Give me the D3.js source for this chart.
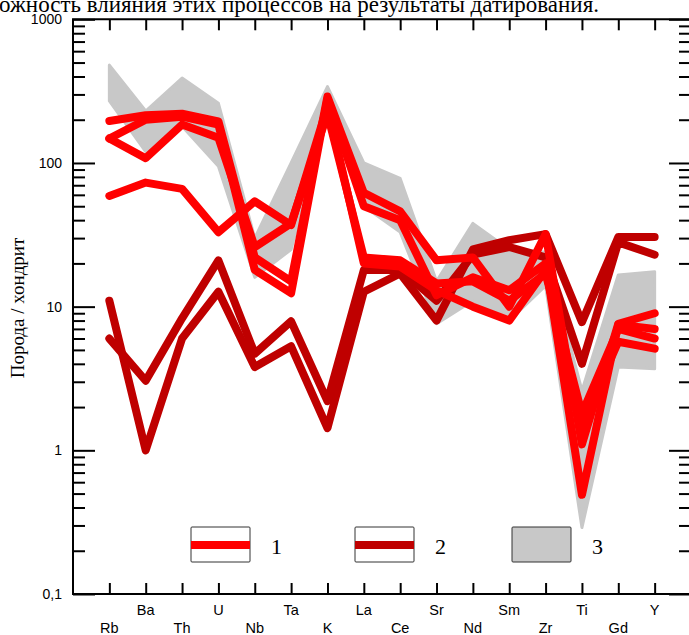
<!DOCTYPE html>
<html>
<head>
<meta charset="utf-8">
<script src="https://cdn.jsdelivr.net/npm/d3@7"></script>
<style>
  body { margin: 0; background: #fff; }
  svg { display: block; }
</style>
</head>
<body>
<script>
var categories = ['Rb', 'Ba', 'Th', 'U', 'Nb', 'Ta', 'K', 'La', 'Ce', 'Sr', 'Nd', 'Sm', 'Zr', 'Ti', 'Gd', 'Y'];

// группа 1 (красные)
var red1 = [196, 215, 220, 195, 22, 15, 290, 62, 46, 21, 22, 10, 32, 1.1, 7.6, 9];
var red2 = [148, 200, 210, 185, 18, 12.4, 280, 50, 40, 12, 16, 13, 20, 0.49, 7.5, 7];
var red3 = [148, 108, 185, 150, 26, 38, 220, 22, 21, 14.5, 15, 11, 17, 1.8, 7, 6];
var red4 = [59, 73, 66, 33, 54, 37, 250, 20, 19, 13, 10, 8, 18, 1.5, 5.7, 5.1];

// группа 2 (тёмно-красные)
var dark1 = [11, 1.0, 6, 12.7, 3.8, 5.3, 1.43, 12.7, 17, 8, 25, 29, 32, 7.8, 30.5, 30.5];
var dark2 = [6, 3.05, 8.3, 21, 4.7, 7.9, 2.2, 18, 18, 11, 23, 26, 22, 4, 28, 23];

// поле 3 (серое)
var fieldTop = [480, 230, 390, 260, 30, 100, 340, 100, 78, 15, 38, 25, 24, 2.6, 16.6, 17.5];
var fieldBottom = [270, 120, 180, 95, 16, 25, 230, 50, 33, 7.6, 11, 8, 14, 0.29, 3.8, 3.7];

var yTicksMajor = [0.1, 1, 10, 100, 1000];
var yTickLabels = ['0,1', '1', '10', '100', '1000'];
var legendNames = ['1', '2', '3'];

var redSeries = [red1, red2, red3, red4];
var darkSeries = [dark1, dark2];

var W = 689, H = 635;
var plotLeft = 73, plotRight = 691, plotTop = 19.3, plotBottom = 594;

var svg = d3.select('body').append('svg')
    .attr('width', W)
    .attr('height', H);

var x = d3.scalePoint().domain(categories).range([plotLeft, plotRight]).padding(1);
var y = d3.scaleLog().domain([0.1, 1000]).range([plotBottom, plotTop]);

// текст документа сверху (обрезан)
svg.append('text')
    .attr('x', -1)
    .attr('y', 12)
    .attr('font-family', 'Liberation Serif, serif')
    .attr('font-size', 23)
    .attr('fill', '#000')
    .text('ожность влияния этих процессов на результаты датирования.');

// все деления логарифмической оси
var allTicks = [];
for (var k = -1; k < 3; k++) {
  for (var m = 1; m < 10; m++) allTicks.push(m * Math.pow(10, k));
}
allTicks.push(1000);

// серое поле
var area = d3.area()
    .x(function(d, i) { return x(categories[i]); })
    .y0(function(d, i) { return y(fieldBottom[i]); })
    .y1(function(d) { return y(d); });

svg.append('path')
    .datum(fieldTop)
    .attr('d', area)
    .attr('fill', '#c8c8c8')
    .attr('stroke', '#c8c8c8')
    .attr('stroke-width', 3)
    .attr('stroke-linejoin', 'round');

var line = d3.line()
    .x(function(d, i) { return x(categories[i]); })
    .y(function(d) { return y(d); });

svg.selectAll('.dark')
    .data(darkSeries)
    .enter().append('path')
    .attr('class', 'dark')
    .attr('d', line)
    .attr('fill', 'none')
    .attr('stroke', '#bf0000')
    .attr('stroke-width', 8)
    .attr('stroke-linejoin', 'round')
    .attr('stroke-linecap', 'round');

svg.selectAll('.red')
    .data(redSeries)
    .enter().append('path')
    .attr('class', 'red')
    .attr('d', line)
    .attr('fill', 'none')
    .attr('stroke', '#ff0000')
    .attr('stroke-width', 8)
    .attr('stroke-linejoin', 'round')
    .attr('stroke-linecap', 'round');

// оси
function styleAxis(g) {
  g.select('.domain').remove();
  g.selectAll('line').attr('stroke', '#000').attr('stroke-width', 2);
}

var leftAxis = svg.append('g')
    .attr('transform', 'translate(' + plotLeft + ',0)')
    .call(d3.axisLeft(y).tickValues(allTicks).tickSizeInner(-12).tickSizeOuter(0).tickPadding(11)
      .tickFormat(function(d) {
        var i = yTicksMajor.indexOf(d);
        return i >= 0 ? yTickLabels[i] : '';
      }));
styleAxis(leftAxis);
leftAxis.selectAll('.tick').filter(function(d) { return yTicksMajor.indexOf(d) >= 0; })
    .select('line').attr('x2', 22);
leftAxis.selectAll('text')
    .attr('font-family', 'Liberation Sans Narrow, Arial Narrow, sans-serif')
    .attr('font-size', 14)
    .attr('fill', '#000');

var rightAxis = svg.append('g')
    .attr('transform', 'translate(' + plotRight + ',0)')
    .call(d3.axisRight(y).tickValues(allTicks).tickSizeInner(-12).tickSizeOuter(0).tickFormat(''));
styleAxis(rightAxis);
rightAxis.selectAll('.tick').filter(function(d) { return yTicksMajor.indexOf(d) >= 0; })
    .select('line').attr('x2', -22);

var topAxis = svg.append('g')
    .attr('transform', 'translate(0,' + plotTop + ')')
    .call(d3.axisTop(x).tickSizeInner(-11).tickSizeOuter(0).tickFormat(''));
styleAxis(topAxis);

var bottomAxis = svg.append('g')
    .attr('transform', 'translate(0,' + plotBottom + ')')
    .call(d3.axisBottom(x).tickSizeInner(-11).tickSizeOuter(0).tickFormat(''));
styleAxis(bottomAxis);

// рамка
svg.append('path')
    .attr('d', 'M' + plotRight + ',' + plotTop + 'H' + plotLeft + 'V' + plotBottom + 'H' + plotRight + 'Z')
    .attr('fill', 'none')
    .attr('stroke', '#000')
    .attr('stroke-width', 2);

// подписи элементов в два ряда
svg.selectAll('.cat')
    .data(categories)
    .enter().append('text')
    .attr('class', 'cat')
    .attr('x', function(d) { return x(d); })
    .attr('y', function(d, i) { return i % 2 === 0 ? 633 : 615; })
    .attr('text-anchor', 'middle')
    .attr('font-family', 'Liberation Sans Narrow, Arial Narrow, sans-serif')
    .attr('font-size', 14.5)
    .attr('fill', '#000')
    .text(function(d) { return d; });

// подпись оси Y
svg.append('text')
    .attr('transform', 'translate(24,308) rotate(-90)')
    .attr('text-anchor', 'middle')
    .attr('font-family', 'Liberation Serif, serif')
    .attr('font-size', 19)
    .attr('fill', '#000')
    .text('Порода / хондрит');

// легенда
var legendX = [191, 355, 512];
var legendFill = ['#fff', '#fff', '#c8c8c8'];
var legendLine = ['#ff0000', '#bf0000', null];

var leg = svg.selectAll('.leg')
    .data(legendNames)
    .enter().append('g')
    .attr('class', 'leg')
    .attr('transform', function(d, i) { return 'translate(' + legendX[i] + ',527)'; });

leg.append('rect')
    .attr('width', 59)
    .attr('height', 35)
    .attr('rx', 1)
    .attr('fill', function(d, i) { return legendFill[i]; })
    .attr('stroke', '#333')
    .attr('stroke-width', 1);

leg.filter(function(d, i) { return legendLine[i]; })
    .append('line')
    .attr('x1', 0).attr('x2', 59)
    .attr('y1', 18).attr('y2', 18)
    .attr('stroke', function(d, i) { return legendLine[i]; })
    .attr('stroke-width', 8);

leg.append('text')
    .attr('x', 80)
    .attr('y', 27)
    .attr('font-family', 'Liberation Serif, serif')
    .attr('font-size', 22)
    .attr('fill', '#000')
    .text(function(d) { return d; });
</script>
</body>
</html>
